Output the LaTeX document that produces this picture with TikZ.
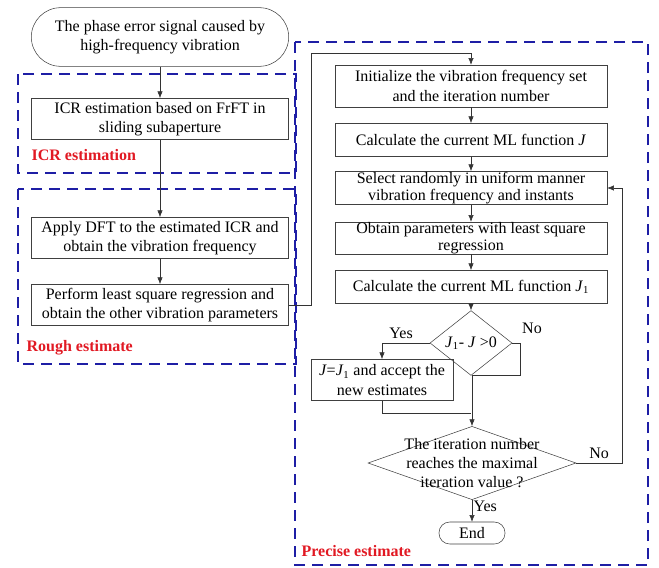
\documentclass[tikz,border=0pt]{standalone}
\usepackage{fontspec}
\setmainfont{Liberation Serif}
\usepackage{xcolor}
\usepackage{tikz}
\usetikzlibrary {arrows.meta}
\usetikzlibrary {shapes.geometric}
\definecolor{zoneblue}{RGB}{30,30,165}
\definecolor{labelred}{RGB}{225,25,35}
\newcommand{\costJ}{\textit{J}}
\newcommand{\costJone}{\textit{J}\textsubscript{1}}
\tikzset{
  box/.style={draw=black!75, rectangle, align=center, inner sep=1pt},
  terminal/.style={box, rounded corners=#1},
  decision/.style={draw=black!75, diamond, align=center, inner sep=0pt},
  zone/.style={draw=zoneblue, line width=1.5pt, dash pattern=on 8pt off 5.5pt},
  zonelabel/.style={text=labelred, font=\fontsize{12}{14}\selectfont\bfseries, inner sep=1pt, anchor=west},
  flow/.style={draw=black!80, arrows = {-Latex[length=5pt, width=4pt]}},
}

\begin{document}
\begin{tikzpicture}[x=0.75pt, y=-0.75pt, font=\fontsize{12}{14.5}\selectfont]
\useasboundingbox (0,0) rectangle (659,567);
% dashed zones
\draw[zone] (18,74) rectangle (296,173);
\draw[zone] (18,189) rectangle (296,364);
\draw[zone] (295,42) rectangle (648,565);
\node[zonelabel] (icrlabel) at (30,155) {ICR estimation};
\node[zonelabel] (roughlabel) at (25,348) {Rough estimate};
\node[zonelabel] (preciselabel) at (300,551) {Precise estimate};
% left column
\node[terminal=22pt, minimum width=193pt, minimum height=44pt] (start) at (160,37) {The phase error signal caused by\\high-frequency vibration};
\node[box, minimum width=193pt, minimum height=31pt] (icr) at (160,119) {ICR estimation based on FrFT in\\sliding subaperture};
\node[box, minimum width=193pt, minimum height=31pt] (dft) at (160,238) {Apply DFT to the estimated ICR and\\obtain the vibration frequency};
\node[box, minimum width=193pt, minimum height=31pt] (lsr) at (160,305) {Perform least square regression and\\obtain the other vibration parameters};
% right column
\node[box, minimum width=204pt, minimum height=31.5pt] (init) at (471,86) {Initialize the vibration frequency set\\and the iteration number};
\node[box, minimum width=204pt, minimum height=25pt] (calcj) at (471,140) {Calculate the current ML function \costJ};
\node[box, minimum width=204pt, minimum height=25pt, inner sep=0pt, font=\fontsize{12}{13}\selectfont] (select) at (471,188) {Select randomly in uniform manner\\vibration frequency and instants};
\node[box, minimum width=204pt, minimum height=24pt, inner sep=0pt, font=\fontsize{12}{13}\selectfont] (obtain) at (471,238) {Obtain parameters with least square\\regression};
\node[box, minimum width=204pt, minimum height=25pt] (calcj1) at (471,287) {Calculate the current ML function \costJone};
\node[decision, minimum width=61.5pt, minimum height=36pt] (cmp) at (471,343) {\costJone- \costJ{} >0};
\node[box, minimum width=106.5pt, minimum height=31pt] (accept) at (382,380) {\costJ=\costJone{} and accept the\\new estimates};
\node[decision, minimum width=156pt, minimum height=55pt, label={[align=center, inner sep=0pt]center:The iteration number\\reaches the maximal\\iteration value ?}] (reach) at (472,463) {};
\node[terminal=8pt, minimum width=49.5pt, minimum height=16.5pt, inner sep=0pt] (finish) at (472,533) {End};
\node (no1) at (532,328) {No};
\coordinate (loopup) at (311,53);
\coordinate (nojoin) at (520,375);
\coordinate (yesjoin) at (471,413);
\coordinate (loopback) at (622,188);
% connectors
\draw[flow] (start) -- (icr);
\draw[flow] (icr) -- (dft);
\draw[flow] (dft) -- (lsr);
\draw[flow] (lsr.east) -| (loopup) -| (init.north);
\draw[flow] (init) -- (calcj);
\draw[flow] (calcj) -- (select);
\draw[flow] (select) -- (obtain);
\draw[flow] (obtain) -- (calcj1);
\draw[flow] (calcj1) -- (cmp);
\draw[flow] (cmp.west) -| node[pos=0.3, above] {Yes} (accept.north);
\draw[flow] (cmp.east) -| (nojoin) -- (nojoin -| reach.north) -- (reach.north);
\draw[draw=black!80] (accept.south) |- (yesjoin);
\draw[flow] (reach.east) -| node[pos=0.25, above] {No} (loopback) -- (select.east);
\draw[flow] (reach.south) -- node[pos=0.3, right, inner sep=1pt] {Yes} (finish.north);
\end{tikzpicture}
\end{document}
